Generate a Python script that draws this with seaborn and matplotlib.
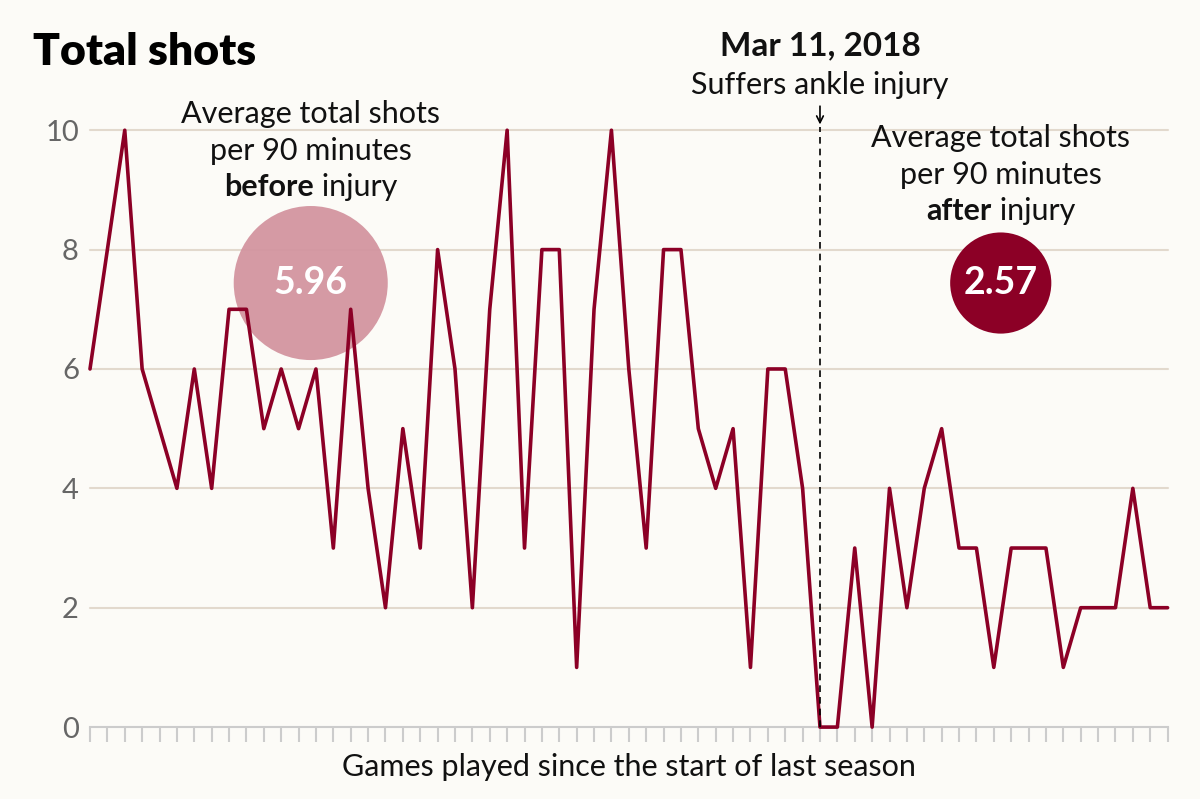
import matplotlib
matplotlib.use("Agg")
import matplotlib.pyplot as plt
from matplotlib.transforms import offset_copy
import seaborn as sns
import pandas as pd

# ------------- Data -------------
shots = [6, 8, 10, 6, 5, 4, 6, 4, 7, 7, 5, 6, 5, 6, 3, 7, 4, 2, 5, 3,
         8, 6, 2, 7, 10, 3, 8, 8, 1, 7, 10, 6, 3, 8, 8, 5, 4, 5, 1, 6,
         6, 4, 0, 0, 3, 0, 4, 2, 4, 5, 3, 3, 1, 3, 3, 3, 1, 2, 2, 2,
         4, 2, 2]
games = list(range(len(shots)))
injury_game = 42
avg_before = 5.96
avg_after = 2.57
y_ticks = [0, 2, 4, 6, 8, 10]

df = pd.DataFrame({"game": games, "shots": shots})

# ------------- Style -------------
bg = "#fcfbf7"
red = "#8c0026"
pink = "#d395a0"
txt = "#111111"
fs = 22
sns.set_theme(style="white")
plt.rcParams["font.family"] = ["Lato", "DejaVu Sans"]

fig = plt.figure(figsize=(12, 7.99), dpi=100, facecolor=bg)
ax = fig.add_axes([0.075, 0.090, 0.898, 0.747], facecolor=bg)

# gridlines
for v in y_ticks[1:]:
    ax.axhline(v, color="#e2d9cd", lw=1.5, zorder=0, clip_on=False)

sns.lineplot(data=df, x="game", y="shots", color=red, lw=2.6, ax=ax,
             clip_on=False, zorder=3)

ax.set_xlim(0, len(shots) - 1)
ax.set_ylim(0, 10)
ax.set_xticks(games)
ax.set_xticklabels([])
ax.set_yticks(y_ticks)
ax.set_yticklabels([str(v) for v in y_ticks], color="#666666", fontsize=21)
ax.tick_params(axis="x", direction="out", length=11, width=1.5, color="#cccccc", bottom=True)
ax.tick_params(axis="y", length=0, pad=8)
for s in ["top", "right", "left"]:
    ax.spines[s].set_visible(False)
ax.spines["bottom"].set_color("#cccccc")
ax.spines["bottom"].set_linewidth(1.5)
ax.set_xlabel("Games played since the start of last season", fontsize=fs,
              color=txt, labelpad=4)
ax.set_ylabel("")

# ------------- Injury marker -------------
ax.vlines(injury_game, 0, 10.05, colors="black", linestyles=(0, (4, 3)), lw=1.2,
          clip_on=False, zorder=4)
ax.annotate("", xy=(injury_game, 10.05), xytext=(injury_game, 10.45),
            arrowprops=dict(arrowstyle="->", color="black", lw=1.2),
            annotation_clip=False)
ax.text(injury_game, 11.42, "Mar 11, 2018", ha="center", va="center",
        fontsize=24, fontweight="bold", color=txt)
ax.text(injury_game, 10.75, "Suffers ankle injury", ha="center", va="center",
        fontsize=fs, color=txt)

# ------------- Average bubbles (area ~ value) -------------
size_per_unit = 2064
before_x, after_x, bubble_y = 12.7, 52.4, 7.44
ax.scatter([before_x], [bubble_y], s=avg_before * size_per_unit, color=pink,
           alpha=0.95, edgecolor="none", zorder=2, clip_on=False)
ax.scatter([after_x], [bubble_y], s=avg_after * size_per_unit, color=red,
           edgecolor="none", zorder=2, clip_on=False)
ax.text(before_x, bubble_y, f"{avg_before:.2f}", ha="center", va="center",
        fontsize=27, fontweight="bold", color="white", zorder=5)
ax.text(after_x, bubble_y, f"{avg_after:.2f}", ha="center", va="center",
        fontsize=27, fontweight="bold", color="white", zorder=5)


def mixed_line(x, y, bold, rest):
    renderer = fig.canvas.get_renderer()
    t1 = ax.text(x, y, bold, fontsize=fs, fontweight="bold", color=txt)
    t2 = ax.text(x, y, rest, fontsize=fs, color=txt)
    w1 = t1.get_window_extent(renderer).width
    w2 = t2.get_window_extent(renderer).width
    total = w1 + w2
    t1.set_transform(offset_copy(ax.transData, fig, x=-total / 2, units="dots"))
    t2.set_transform(offset_copy(ax.transData, fig, x=-total / 2 + w1, units="dots"))
    for t in (t1, t2):
        t.set_ha("left")
        t.set_va("center")


for cx, top, word in [(before_x, 10.28, "before"), (after_x, 9.87, "after")]:
    ax.text(cx, top, "Average total shots", ha="center", va="center",
            fontsize=fs, color=txt)
    ax.text(cx, top - 0.62, "per 90 minutes", ha="center", va="center",
            fontsize=fs, color=txt)
    mixed_line(cx, top - 1.23, word, " injury")

fig.text(33 / 1200, 1 - 52 / 799, "Total shots", ha="left", va="center",
         fontsize=32, fontweight="heavy", color="#000000")

plt.savefig("out.png", dpi=100, facecolor=bg)
